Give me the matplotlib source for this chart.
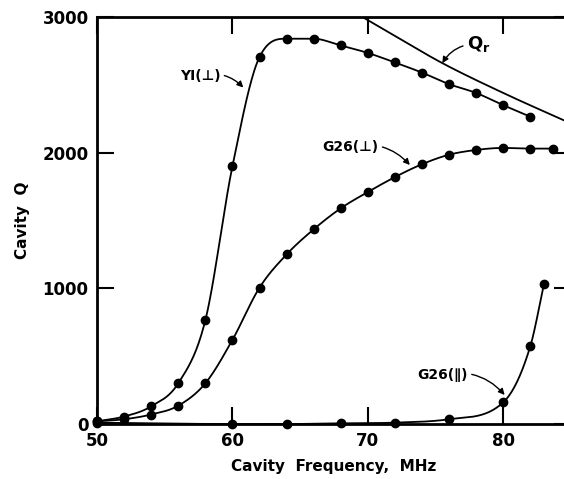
import numpy as np
import matplotlib
matplotlib.use("Agg")
import matplotlib.pyplot as plt

# ---- data ----
y1_x = [50, 52, 54, 56, 58, 60, 62, 64, 66, 68, 70, 72, 74, 76, 78, 80, 82]
y1_q = [20, 55, 130, 300, 765, 1900, 2705, 2840, 2840, 2790, 2735, 2665, 2590, 2505, 2440, 2350, 2265]

g26p_x = [50, 52, 54, 56, 58, 60, 62, 64, 66, 68, 70, 72, 74, 76, 78, 80, 82, 83.7]
g26p_q = [20, 35, 70, 135, 300, 620, 1005, 1250, 1435, 1590, 1710, 1820, 1915, 1985, 2020, 2035, 2030, 2030]

g26l_x = [50, 60, 64, 68, 72, 76, 80, 82, 83]
g26l_q = [10, 0, 0, 5, 10, 35, 160, 575, 1030]

qr_x = [69.6, 72, 75.5, 80, 85]
qr_q = [3000, 2860, 2660, 2440, 2215]

x_ticks = [50, 60, 70, 80]
y_ticks = [0, 1000, 2000, 3000]


def smooth(x, y, xn):
    """Monotone-limited cubic Hermite curve through the given points."""
    x = np.asarray(x, float); y = np.asarray(y, float)
    h = np.diff(x); d = np.diff(y) / h
    n = len(x); m = np.zeros(n)
    for k in range(1, n - 1):
        if d[k - 1] * d[k] > 0:
            m[k] = 0.5 * (d[k - 1] + d[k])
    m[0] = d[0]; m[-1] = d[-1]
    for k in range(n - 1):
        if d[k] == 0:
            m[k] = 0; m[k + 1] = 0
            continue
        a = m[k] / d[k]; b = m[k + 1] / d[k]
        s = a * a + b * b
        if s > 9:
            t = 3 / np.sqrt(s)
            m[k] = t * a * d[k]; m[k + 1] = t * b * d[k]
    idx = np.clip(np.searchsorted(x, xn) - 1, 0, n - 2)
    t = (xn - x[idx]) / h[idx]
    h00 = 2 * t**3 - 3 * t**2 + 1; h10 = t**3 - 2 * t**2 + t
    h01 = -2 * t**3 + 3 * t**2; h11 = t**3 - t**2
    return h00 * y[idx] + h10 * h[idx] * m[idx] + h01 * y[idx + 1] + h11 * h[idx] * m[idx + 1]


plt.rcParams['font.family'] = ['DejaVu Sans']
fig = plt.figure(figsize=(5.64, 4.79), dpi=100)
W, H = 564, 479
left, right, top, bottom = 97, 571, 17, 424
ax = fig.add_axes([left / W, 1 - bottom / H, (right - left) / W, (bottom - top) / H])
ax.set_xlim(50, 85)
ax.set_ylim(0, 3000)

for xs, ys in [(y1_x, y1_q), (g26p_x, g26p_q), (g26l_x, g26l_q)]:
    xn = np.linspace(xs[0], xs[-1], 500)
    ax.plot(xn, smooth(xs, ys, xn), color='black', lw=1.3, clip_on=False)
    ax.plot(xs, ys, 'o', color='black', ms=6, clip_on=False, zorder=5)

xn = np.linspace(qr_x[0], qr_x[-1], 200)
ax.plot(xn, smooth(qr_x, qr_q, xn), color='black', lw=1.3)

for s in ax.spines.values():
    s.set_linewidth(2.0)
ax.set_xticks(x_ticks)
ax.set_yticks(y_ticks)
ax.tick_params(direction='in', length=12, width=1.5, top=True, right=True,
               labelsize=12, pad=6)
for lab in ax.get_xticklabels() + ax.get_yticklabels():
    lab.set_fontweight('bold')

ax.set_xlabel('Cavity  Frequency,  MHz', fontsize=11, fontweight='bold', labelpad=6)
ax.set_ylabel('Cavity  Q', fontsize=11, fontweight='bold', labelpad=9)

arrow = dict(arrowstyle='-|>', color='black', lw=1.0, mutation_scale=9,
             connectionstyle='arc3,rad=-0.3', shrinkA=1, shrinkB=0)
ax.annotate('YI(⊥)', xy=(60.8, 2480), xytext=(57.6, 2565), ha='center', va='center',
            fontsize=10, fontweight='bold', arrowprops=arrow)
ax.annotate('Q$_\\mathregular{r}$', xy=(75.5, 2660), xytext=(78.2, 2800), ha='center', va='center',
            fontsize=13, fontweight='bold', arrowprops=dict(arrow, connectionstyle='arc3,rad=0.3'))
ax.annotate('G26(⊥)', xy=(73.1, 1909), xytext=(68.7, 2041), ha='center', va='center',
            fontsize=10, fontweight='bold', arrowprops=arrow)
ax.annotate('G26(∥)', xy=(80.1, 214), xytext=(75.5, 361), ha='center', va='center',
            fontsize=10, fontweight='bold', arrowprops=arrow)

fig.savefig('out.png', dpi=100)
